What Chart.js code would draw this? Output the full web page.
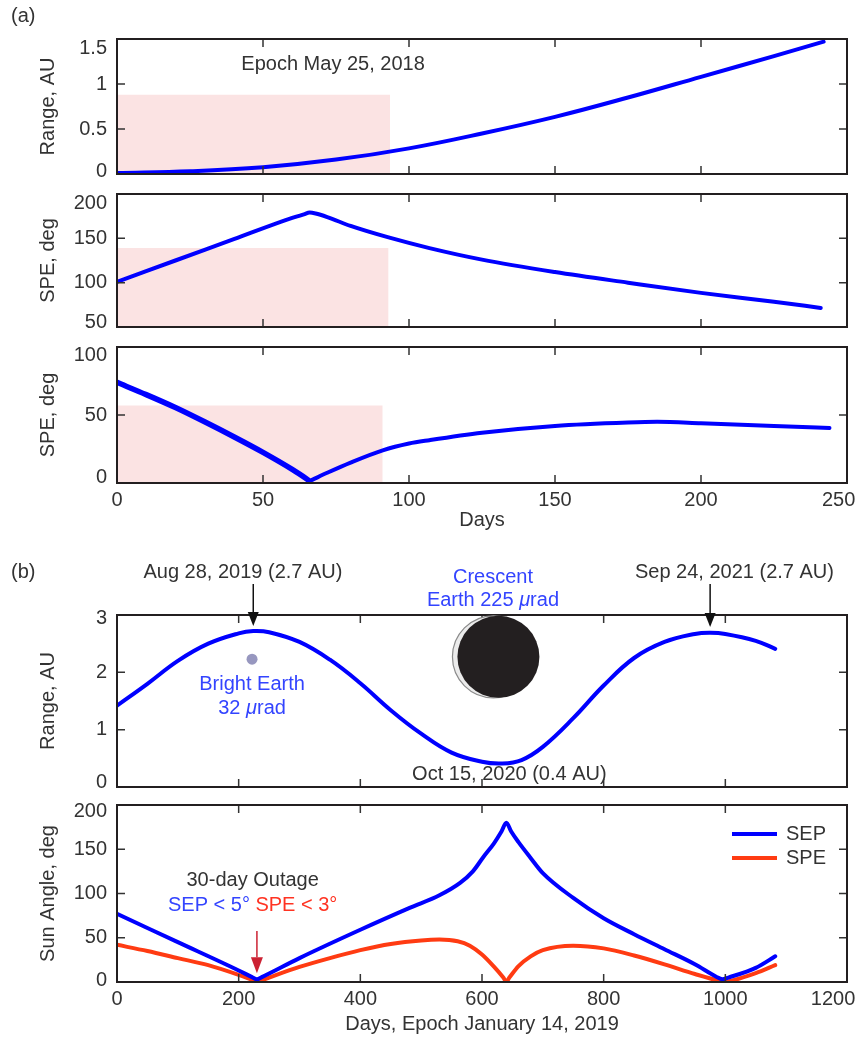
<!DOCTYPE html>
<html>
<head>
<meta charset="utf-8">
<script src="https://cdn.jsdelivr.net/npm/chart.js@4.4.1/dist/chart.umd.min.js"></script>
<style>
  body { margin: 0; background: #fff; }
  #page { position: relative; width: 861px; height: 1044px; }
  canvas { position: absolute; left: 0; }
</style>
</head>
<body>
<div id="page">
  <canvas id="a1" width="861" height="182" style="top:0px"></canvas>
  <canvas id="a2" width="861" height="152" style="top:182px"></canvas>
  <canvas id="a3" width="861" height="200" style="top:334px"></canvas>
  <canvas id="b1" width="861" height="256" style="top:534px"></canvas>
  <canvas id="b2" width="861" height="254" style="top:790px"></canvas>
</div>
<script>
// ---- (a) epoch May 25, 2018 ----
const daysTicksA = [0, 50, 100, 150, 200, 250];
const rangeTicksA = [0, 0.5, 1, 1.5];
const speTicksA2 = [50, 100, 150, 200];
const speTicksA3 = [0, 50, 100];

const rangeDaysA = [0, 25, 50, 75, 100, 125, 150, 175, 200, 225, 242];
const rangeAUA = [0.01, 0.03, 0.075, 0.16, 0.285, 0.45, 0.635, 0.85, 1.08, 1.31, 1.47];

const speDaysA2 = [0, 20, 40, 60, 64, 66, 68, 72, 80, 93, 107, 125, 150, 175, 200, 225, 241];
const speA2 = [101, 125, 149, 173, 177, 179, 178, 174, 164, 151, 139, 126, 112, 100, 88.5, 78.5, 71.5];

const speDaysA3 = [0, 10, 20, 30, 40, 50, 60, 65, 66, 67, 72, 80, 91, 100, 107, 125, 150, 175, 185, 200, 225, 244];
const speA3 = [74, 65, 55.5, 45, 34, 22.5, 10, 3, 1.5, 2.5, 7.5, 15, 24, 29, 31.5, 37, 42, 44.5, 45, 44, 42, 40.5];

// shaded windows: [end day, top value] for each (a) panel
const shadeA1 = [93.5, 0.88];
const shadeA2 = [93, 139];
const shadeA3 = [91, 57];

// ---- (b) epoch January 14, 2019 ----
const daysTicksB = [0, 200, 400, 600, 800, 1000, 1200];
const rangeTicksB = [0, 1, 2, 3];
const angleTicksB = [0, 50, 100, 150, 200];

const rangeDaysB = [0, 50, 100, 150, 200, 224, 250, 300, 350, 400, 450, 500, 550, 600, 633, 665, 700, 750, 800, 850, 900, 950, 975, 1000, 1050, 1082];
const rangeAUB = [1.42, 1.8, 2.2, 2.5, 2.68, 2.72, 2.7, 2.53, 2.22, 1.81, 1.34, 0.93, 0.6, 0.44, 0.41, 0.47, 0.7, 1.2, 1.77, 2.25, 2.53, 2.67, 2.69, 2.67, 2.55, 2.41];

const sepDays = [0, 100, 200, 222, 230, 238, 300, 400, 482, 530, 564, 585, 602, 620, 632, 640, 648, 660, 679, 700, 750, 800, 850, 900, 950, 985, 995, 1005, 1050, 1082];
const sepDeg = [77, 45, 13, 5.5, 3, 5.5, 27, 59, 84, 98, 112, 125, 141, 157, 170, 180, 170, 158, 141, 123, 95, 72, 54, 37, 20, 6, 3, 5, 16, 29];

const speDaysB = [0, 50, 100, 150, 200, 222, 230, 238, 250, 300, 350, 400, 450, 500, 530, 560, 580, 600, 620, 635, 640, 645, 660, 680, 700, 750, 800, 850, 900, 950, 990, 1000, 1010, 1050, 1082];
const speDegB = [42, 35, 27, 19, 8, 2.5, 0.5, 2, 5, 17, 27, 36, 43, 47, 48, 46, 41, 31, 17, 5, 0.5, 5, 18, 29, 36, 41, 38, 30, 20, 9, 1.5, 0.5, 1.5, 10, 19];

const FONT = "'Liberation Sans', Arial, Helvetica, sans-serif";
const DARK = '#333';
const BLUE = '#0000ff';
const RED = '#ff3b12';
const BLUE_TXT = '#3344ff';
const RED_TXT = '#ff3322';

function series(xs, ys, color, width, smooth) {
    const ds = {
        data: xs.map((x, i) => ({ x: x, y: ys[i] })),
        borderColor: color,
        borderWidth: width,
        pointRadius: 0,
        fill: false
    };
    if (smooth) ds.tension = 0.4;
    else ds.cubicInterpolationMode = 'monotone';
    return ds;
}

function shade(win) {
    return {
        data: [{ x: 0, y: win[1] }, { x: win[0], y: win[1] }],
        borderWidth: 0,
        pointRadius: 0,
        backgroundColor: '#fbe3e3',
        fill: 'start'
    };
}

function text(ctx, parts, cx, cy, align) {
    let w = 0;
    parts.forEach(p => {
        ctx.font = (p[2] ? 'italic ' : '') + '20px ' + FONT;
        w += ctx.measureText(p[0]).width;
    });
    let x = align === 'left' ? cx : cx - w / 2;
    ctx.textBaseline = 'middle';
    ctx.textAlign = 'left';
    parts.forEach(p => {
        ctx.font = (p[2] ? 'italic ' : '') + '20px ' + FONT;
        ctx.fillStyle = p[1];
        ctx.fillText(p[0], x, cy);
        x += ctx.measureText(p[0]).width;
    });
}

function arrow(ctx, x, y0, y1, color, hw, hl) {
    ctx.strokeStyle = color;
    ctx.fillStyle = color;
    ctx.lineWidth = 1.5;
    ctx.beginPath();
    ctx.moveTo(x, y0);
    ctx.lineTo(x, y1 - hl);
    ctx.stroke();
    ctx.beginPath();
    ctx.moveTo(x - hw / 2, y1 - hl);
    ctx.lineTo(x + hw / 2, y1 - hl);
    ctx.lineTo(x, y1);
    ctx.closePath();
    ctx.fill();
}

// box round the plot area with inward ticks on all four sides
const frame = {
    id: 'frame',
    afterDatasetsDraw(chart) {
        const { ctx, chartArea: a, scales: { x, y } } = chart;
        ctx.save();
        ctx.strokeStyle = '#333';
        ctx.lineWidth = 1.5;
        ctx.beginPath();
        x.ticks.forEach(t => {
            const px = x.getPixelForValue(t.value);
            ctx.moveTo(px, a.bottom); ctx.lineTo(px, a.bottom - 8);
            ctx.moveTo(px, a.top); ctx.lineTo(px, a.top + 8);
        });
        y.ticks.forEach(t => {
            const py = y.getPixelForValue(t.value);
            ctx.moveTo(a.left, py); ctx.lineTo(a.left + 8, py);
            ctx.moveTo(a.right, py); ctx.lineTo(a.right - 8, py);
        });
        ctx.stroke();
        ctx.strokeStyle = '#231f20';
        ctx.lineWidth = 2;
        ctx.strokeRect(a.left, a.top, a.right - a.left, a.bottom - a.top);
        ctx.restore();
    }
};

// keep tick labels from pushing the plot area in, so all panels line up
function noOverflow(s) {
    s.paddingLeft = 0;
    s.paddingRight = 0;
    s.paddingTop = 0;
    s.paddingBottom = 0;
}

function makeChart(id, cfg) {
    const font = { family: FONT, size: 20 };
    const nudge = cfg.nudge || [0, 0];
    const lastY = cfg.yTicks.length - 1;
    return new Chart(document.getElementById(id), {
        type: 'line',
        data: { datasets: cfg.datasets },
        options: {
            responsive: false,
            animation: false,
            layout: { padding: { top: cfg.top, right: 14, left: 0, bottom: 0 } },
            plugins: { legend: { display: false }, tooltip: { enabled: false } },
            elements: { line: { borderCapStyle: 'round', borderJoinStyle: 'round' } },
            scales: {
                x: {
                    type: 'linear',
                    min: cfg.xTicks[0],
                    max: cfg.xTicks[cfg.xTicks.length - 1],
                    afterBuildTicks: s => { s.ticks = cfg.xTicks.map(v => ({ value: v })); },
                    afterFit: s => { s.height = cfg.xh; noOverflow(s); },
                    grid: { display: false, drawTicks: false },
                    border: { display: false },
                    ticks: {
                        display: !!cfg.xTitle, autoSkip: false, padding: 5, color: DARK, font: font, maxRotation: 0,
                        // last label sits just inside the figure edge
                        callback: (v, i, t) => (i === t.length - 1 ? String(v) + (cfg.lastPad || '') : String(v))
                    },
                    title: { display: !!cfg.xTitle, text: cfg.xTitle || '', color: DARK, font: font, padding: { top: 0, bottom: cfg.xTitlePad || 0 } }
                },
                y: {
                    type: 'linear',
                    min: cfg.yTicks[0],
                    max: cfg.yTicks[lastY],
                    afterBuildTicks: s => { s.ticks = cfg.yTicks.map(v => ({ value: v })); },
                    afterFit: s => { s.width = 117; noOverflow(s); },
                    grid: { display: false, drawTicks: false },
                    border: { display: false },
                    ticks: {
                        autoSkip: false, padding: 10, color: DARK,
                        // end labels are pulled inside the box a little
                        font: c => {
                            let lh = 24;
                            if (c.index === 0) lh = 2 * nudge[0];
                            else if (c.index === lastY) lh = 2 * nudge[1];
                            return { family: FONT, size: 20, lineHeight: lh + 'px' };
                        },
                        callback: (v, i) => {
                            if (i === 0 && nudge[0]) return [String(v), ''];
                            if (i === lastY && nudge[1]) return ['', String(v)];
                            return String(v);
                        }
                    },
                    title: { display: true, text: cfg.yTitle, color: DARK, font: font, padding: { top: 36, bottom: 0 } }
                }
            }
        },
        plugins: [frame, { id: id + 'Notes', afterDraw: cfg.notes || (() => {}) }]
    });
}

makeChart('a1', {
    top: 39, xh: 8, xTicks: daysTicksA, yTicks: rangeTicksA, yTitle: 'Range, AU', nudge: [3, 9],
    datasets: [series(rangeDaysA, rangeAUA, BLUE, 4, true), shade(shadeA1)],
    notes(chart) {
        const { ctx, scales: { x, y } } = chart;
        text(ctx, [['(a)', DARK]], 11, 16, 'left');
        text(ctx, [['Epoch May 25, 2018', DARK]], x.getPixelForValue(74), y.getPixelForValue(1.22));
    }
});

makeChart('a2', {
    top: 12, xh: 7, xTicks: daysTicksA, yTicks: speTicksA2, yTitle: 'SPE, deg', nudge: [5, 9],
    datasets: [series(speDaysA2, speA2, BLUE, 4), shade(shadeA2)]
});

const a3Line = series(speDaysA3, speA3, BLUE, 4);
a3Line.segment = { borderWidth: c => (c.p1.parsed.x <= 66 ? 5.5 : 4) };
makeChart('a3', {
    top: 13, xh: 51, xTicks: daysTicksA, yTicks: speTicksA3, yTitle: 'SPE, deg', nudge: [5.5, 8],
    xTitle: 'Days', xTitlePad: 2, lastPad: '\u2007 ',
    datasets: [a3Line, shade(shadeA3)]
});

makeChart('b1', {
    top: 81, xh: 3, xTicks: daysTicksB, yTicks: rangeTicksB, yTitle: 'Range, AU', nudge: [5, 3],
    datasets: [series(rangeDaysB, rangeAUB, BLUE, 4, true)],
    notes(chart) {
        const { ctx, chartArea: a, scales: { x, y } } = chart;
        text(ctx, [['(b)', DARK]], 11, 38, 'left');
        text(ctx, [['Aug 28, 2019 (2.7 AU)', DARK]], x.getPixelForValue(207), 38);
        arrow(ctx, x.getPixelForValue(224), 50, a.top + 11, '#111', 11, 14);
        text(ctx, [['Sep 24, 2021 (2.7 AU)', DARK]], x.getPixelForValue(1015), 38);
        arrow(ctx, x.getPixelForValue(975), 50, a.top + 12, '#111', 11, 14);
        text(ctx, [['Crescent', BLUE_TXT]], x.getPixelForValue(618), 43);
        text(ctx, [['Earth 225 ', BLUE_TXT], ['\u03bc', BLUE_TXT, true], ['rad', BLUE_TXT]], x.getPixelForValue(618), 66);

        // crescent Earth disk
        const cx = x.getPixelForValue(627), cy = y.getPixelForValue(2.27);
        ctx.beginPath();
        ctx.arc(cx - 5, cy, 41, 0, 2 * Math.PI);
        ctx.fillStyle = '#ebebeb';
        ctx.fill();
        ctx.strokeStyle = '#8a8a8a';
        ctx.lineWidth = 1.2;
        ctx.stroke();
        ctx.beginPath();
        ctx.arc(cx, cy, 41, 0, 2 * Math.PI);
        ctx.fillStyle = '#231f20';
        ctx.fill();

        // bright Earth dot
        ctx.beginPath();
        ctx.arc(x.getPixelForValue(222), y.getPixelForValue(2.23), 5.5, 0, 2 * Math.PI);
        ctx.fillStyle = '#9797bf';
        ctx.fill();
        text(ctx, [['Bright Earth', BLUE_TXT]], x.getPixelForValue(222), 150);
        text(ctx, [['32 ', BLUE_TXT], ['\u03bc', BLUE_TXT, true], ['rad', BLUE_TXT]], x.getPixelForValue(222), 174);

        text(ctx, [['Oct 15, 2020 (0.4 AU)', DARK]], x.getPixelForValue(645), y.getPixelForValue(0.21));
    }
});

makeChart('b2', {
    top: 15, xh: 62, xTicks: daysTicksB, yTicks: angleTicksB, yTitle: 'Sun Angle, deg', nudge: [2, 6],
    xTitle: 'Days, Epoch January 14, 2019', xTitlePad: 8, lastPad: '\u2007\u2007 ',
    datasets: [series(sepDays, sepDeg, BLUE, 4), series(speDaysB, speDegB, RED, 4)],
    notes(chart) {
        const { ctx, chartArea: a, scales: { x, y } } = chart;
        text(ctx, [['30-day Outage', DARK]], x.getPixelForValue(223), y.getPixelForValue(115));
        text(ctx, [['SEP < 5\u00b0 ', BLUE_TXT], ['SPE < 3\u00b0', RED_TXT]], x.getPixelForValue(223), y.getPixelForValue(87));
        arrow(ctx, x.getPixelForValue(230), y.getPixelForValue(57.6), y.getPixelForValue(10), '#cc2233', 12, 16);

        [['SEP', BLUE, 29], ['SPE', RED, 53]].forEach(([label, color, dy]) => {
            ctx.strokeStyle = color;
            ctx.lineWidth = 4;
            ctx.lineCap = 'butt';
            ctx.beginPath();
            ctx.moveTo(a.right - 115, a.top + dy);
            ctx.lineTo(a.right - 70, a.top + dy);
            ctx.stroke();
            text(ctx, [[label, DARK]], a.right - 61, a.top + dy, 'left');
        });
    }
});
</script>
</body>
</html>
